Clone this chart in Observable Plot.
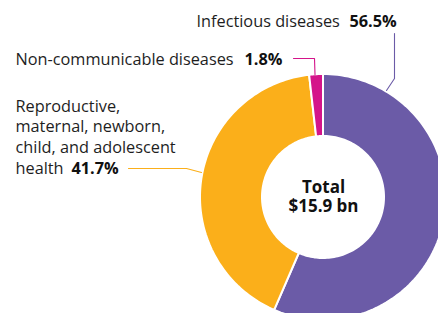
<!DOCTYPE html>
<html>
<head>
<meta charset="utf-8">
<script src="https://cdn.jsdelivr.net/npm/d3@7"></script>
<script src="https://cdn.jsdelivr.net/npm/@observablehq/plot@0.6"></script>
<style>
  html, body { margin: 0; padding: 0; background: #fff; overflow: hidden; }
  #chart svg { display: block; }
</style>
</head>
<body>
<div id="chart"></div>
<script>
// ---- data ----
const categories = ["Infectious diseases", "Reproductive, maternal, newborn, child, and adolescent health", "Non-communicable diseases"];
const labelLines = [["Infectious diseases"], ["Reproductive,", "maternal, newborn,", "child, and adolescent", "health"], ["Non-communicable diseases"]];
const shares = [56.5, 41.7, 1.8];
const shareLabels = ["56.5%", "41.7%", "1.8%"];
const totalLabel = ["Total", "$15.9 bn"];
const colors = ["#6b5ba7", "#fbaf1a", "#d4148a"];

// ---- layout (pixels) ----
const W = 438, H = 313;
const cx = 323, cy = 197, R = 123, r = 61;
const font = "'Open Sans', sans-serif";
const fs = 16.3;
const lineStep = 20.8;

// pie angles from the data
const pie = d3.pie().sort(null).value(d => d)(shares);
const ring = [];
pie.forEach((p, i) => {
  const n = 120;
  for (let k = 0; k <= n; k++) {
    const a = p.startAngle + (p.endAngle - p.startAngle) * k / n;
    ring.push({
      cat: categories[i],
      x1: cx + R * Math.sin(a), y1: cy - R * Math.cos(a),
      x2: cx + r * Math.sin(a), y2: cy - r * Math.cos(a)
    });
  }
});

// label placement (layout only): first-line baseline
const nameLayout = [
  {x: 196, y: 26},
  {x: 15, y: 111},
  {x: 15, y: 64}
];
const pctLayout = [
  {x: 349, y: 26},
  {x: 71, y: 173.5},
  {x: 244, y: 64}
];
const leaderLayout = [
  [[394, 33], [394, 78], [386, 90]],
  [[128, 168], [186, 168], [201, 172]],
  [[293, 58], [314, 58], [314.5, 74]]
];

const names = categories.flatMap((c, i) => labelLines[i].map((t, j) => ({cat: c, text: t, x: nameLayout[i].x, y: nameLayout[i].y + j * lineStep})));
const pcts = categories.map((c, i) => ({cat: c, text: shareLabels[i], ...pctLayout[i]}));
const leaders = categories.flatMap((c, i) => leaderLayout[i].map(([x, y]) => ({cat: c, x, y})));
const centre = totalLabel.map((t, j) => ({text: t, x: cx, y: 192.3 + j * 19.4}));

// Plot's middle line anchor puts the baseline at y + 0.32em
const base = (size) => (d) => d.y - size * 0.32;

const chart = Plot.plot({
  width: W, height: H,
  margin: 0,
  x: {domain: [0, W], range: [0, W], axis: null},
  y: {domain: [0, H], range: [0, H], axis: null},
  color: {domain: categories, range: colors},
  style: {fontFamily: font, background: "#fff"},
  marks: [
    Plot.area(ring, {x1: "x1", y1: "y1", x2: "x2", y2: "y2", z: "cat", fill: "cat", stroke: "white", strokeWidth: 2, curve: "linear"}),
    Plot.line(leaders, {x: "x", y: "y", z: "cat", stroke: "cat", strokeWidth: 1.1}),
    Plot.text(names, {x: "x", y: base(fs), text: "text", textAnchor: "start", fontSize: fs, fill: "#1e1e1e"}),
    Plot.text(pcts, {x: "x", y: base(fs), text: "text", textAnchor: "start", fontSize: fs, fontWeight: "bold", fill: "#111"}),
    Plot.text(centre, {x: "x", y: base(17), text: "text", textAnchor: "middle", fontSize: 17, fontWeight: "bold", fill: "#111"})
  ]
});
document.getElementById("chart").appendChild(chart);
</script>
</body>
</html>
